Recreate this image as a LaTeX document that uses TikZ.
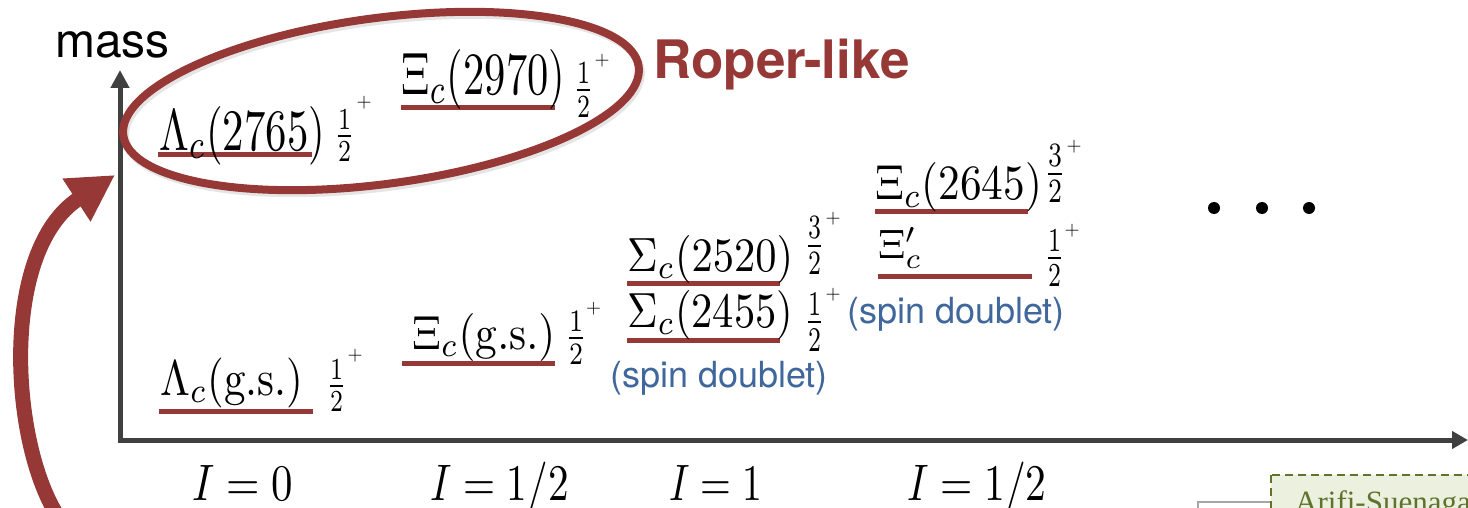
\documentclass[tikz,border=0pt]{standalone}
\usepackage{fontspec}
\usepackage{graphicx}
\usetikzlibrary{arrows.meta}
\newfontfamily\heros{TeX Gyre Heros}
\newfontfamily\libserif{Liberation Serif}
\definecolor{rd}{RGB}{150,56,54}
\definecolor{axc}{RGB}{64,64,64}
\definecolor{bl}{RGB}{63,103,156}
\definecolor{olv}{RGB}{95,115,45}
\definecolor{olvfill}{RGB}{236,240,222}
\newcommand{\fitbox}[3]{\resizebox{#1pt}{#2pt}{$#3$}}
\newcommand{\fracbox}[4]{\resizebox*{#1pt}{#2pt}{\nulldelimiterspace=0pt$\frac{#3}{#4}$}}
\newcommand{\plusbox}{\resizebox{15pt}{!}{$+$}}
\begin{document}
\begin{tikzpicture}[x=1pt,y=1pt,
  lbl/.style={inner sep=0pt, anchor=base west},
  spin/.style={inner sep=0pt, anchor=south west},
  plus/.style={inner sep=0pt, anchor=center},
  lvl/.style={draw=rd, line width=5pt},
  dbl/.style={inner sep=0pt, anchor=base west, text=bl, font={\heros\fontsize{36}{40}\selectfont}},
  dotc/.style={circle, fill=black, inner sep=0pt, minimum size=12pt}
]
\useasboundingbox (0,0) rectangle (1468,-508);

% axes
\coordinate (O) at (120,-440);
\coordinate (ytip) at (120,-70);
\coordinate (xtip) at (1468,-440);
\draw[axc, line width=5pt, {Triangle[length=18pt,width=18pt]}-{Triangle[length=16pt,width=17pt]}] (ytip) -- (O) -- (xtip);

% ellipse (Roper-like)
\draw[black!20, line width=8pt, opacity=0.5, rotate around={7.6:(383,-104)}] (383,-104) ellipse [x radius=260, y radius=83];
\draw[rd, line width=8pt, rotate around={7.6:(381,-101)}] (381,-101) ellipse [x radius=260, y radius=83];

% levels
\draw[lvl] (159,-411) -- (313,-411);
\draw[lvl] (402,-363) -- (555,-363);
\draw[lvl] (158,-155) -- (312,-155);
\draw[lvl] (401,-108) -- (555,-108);
\draw[lvl] (627,-283) -- (780,-283);
\draw[lvl] (627,-340) -- (780,-340);
\draw[lvl] (875,-211) -- (1028,-211);
\draw[lvl] (878,-276) -- (1032,-276);

% names
\node[lbl] (lgs) at (160,-395.5) {\fitbox{143}{37.5}{\Lambda_c(\mathrm{g.s.})}};
\node[lbl] (xgs) at (412,-349) {\fitbox{143}{36}{\Xi_c(\mathrm{g.s.})}};
\node[lbl] (l2765) at (159,-150) {\fitbox{166}{44}{\Lambda_c(2765)}};
\node[lbl] (x2970) at (401,-95) {\fitbox{164}{45}{\Xi_c(2970)}};
\node[lbl] (s2520) at (627,-271) {\fitbox{166}{36}{\Sigma_c(2520)}};
\node[lbl] (s2455) at (627,-327) {\fitbox{166}{37}{\Sigma_c(2455)}};
\node[lbl] (x2645) at (875,-200) {\fitbox{167}{37}{\Xi_c(2645)}};
\node[lbl] (xp) at (878,-258) {\fitbox{44}{31}{\Xi'_c}};

% spin-parity: fractions
\node[spin] (lgsf) at (330,-412) {\fracbox{13}{52}{1}{2}};
\node[spin] (xgsf) at (569,-365) {\fracbox{14}{53}{1}{2}};
\node[spin] (l2765f) at (338,-162) {\fracbox{13}{52}{1}{2}};
\node[spin] (x2970f) at (577,-118) {\fracbox{13}{55}{1}{2}};
\node[spin] (s2520f) at (808,-275) {\fracbox{13}{58}{3}{2}};
\node[spin] (s2455f) at (808,-352) {\fracbox{13}{59}{1}{2}};
\node[spin] (x2645f) at (1048,-203) {\fracbox{14}{58}{3}{2}};
\node[spin] (xpf) at (1048,-287) {\fracbox{13}{57}{1}{2}};
% spin-parity: plus signs
\node[plus] (lgsp) at (355,-356) {\plusbox};
\node[plus] (xgsp) at (593.5,-309) {\plusbox};
\node[plus] (l2765p) at (364,-103) {\plusbox};
\node[plus] (x2970p) at (602,-61) {\plusbox};
\node[plus] (s2520p) at (833,-219) {\plusbox};
\node[plus] (s2455p) at (833,-295) {\plusbox};
\node[plus] (x2645p) at (1074,-147) {\plusbox};
\node[plus] (xpp) at (1072,-231) {\plusbox};

% isospin labels
\node[lbl] (i0) at (192,-500) {\fitbox{101}{35}{I=0}};
\node[lbl] (i12a) at (430.5,-500) {\fitbox{138}{38.5}{I=1/2}};
\node[lbl] (i1) at (669,-500) {\fitbox{93}{35}{I=1}};
\node[lbl] (i12b) at (907.5,-500) {\fitbox{139}{38.5}{I=1/2}};

% text
\node[inner sep=0pt, anchor=base west, font={\heros\fontsize{48}{52}\selectfont}] (mass) at (55,-58) {mass};
\node[inner sep=0pt, anchor=base west, text=rd, font={\heros\bfseries\fontsize{53}{58}\selectfont}] (roper) at (653,-79) {Roper-like};
\node[dbl] (sd1) at (610,-387) {(spin doublet)};
\node[dbl] (sd2) at (847,-323) {(spin doublet)};

% dots
\node[dotc] (d1) at (1214,-208) {};
\node[dotc] (d2) at (1262,-208) {};
\node[dotc] (d3) at (1309,-208) {};

% curved arrow
\coordinate (cs) at (57,-515);
\coordinate (ct) at (115,-175);
\draw[rd, line width=15pt, -{Triangle[length=46pt,width=48pt]}] (cs) .. controls (10,-440) and (0,-250) .. (ct);

% bottom-right boxes
\draw[gray!70, line width=1.2pt, fill=white] (1198,-502) rectangle (1271,-540);
\draw[olv, dash pattern=on 8pt off 5pt, line width=1.8pt, fill=olvfill] (1271,-475) rectangle (1490,-540);
\node[anchor=base west, inner sep=0pt, text=olv, font={\libserif\fontsize{31}{34}\selectfont}] (arifi) at (1295,-512) {Arifi-Suenaga};
\end{tikzpicture}
\end{document}
